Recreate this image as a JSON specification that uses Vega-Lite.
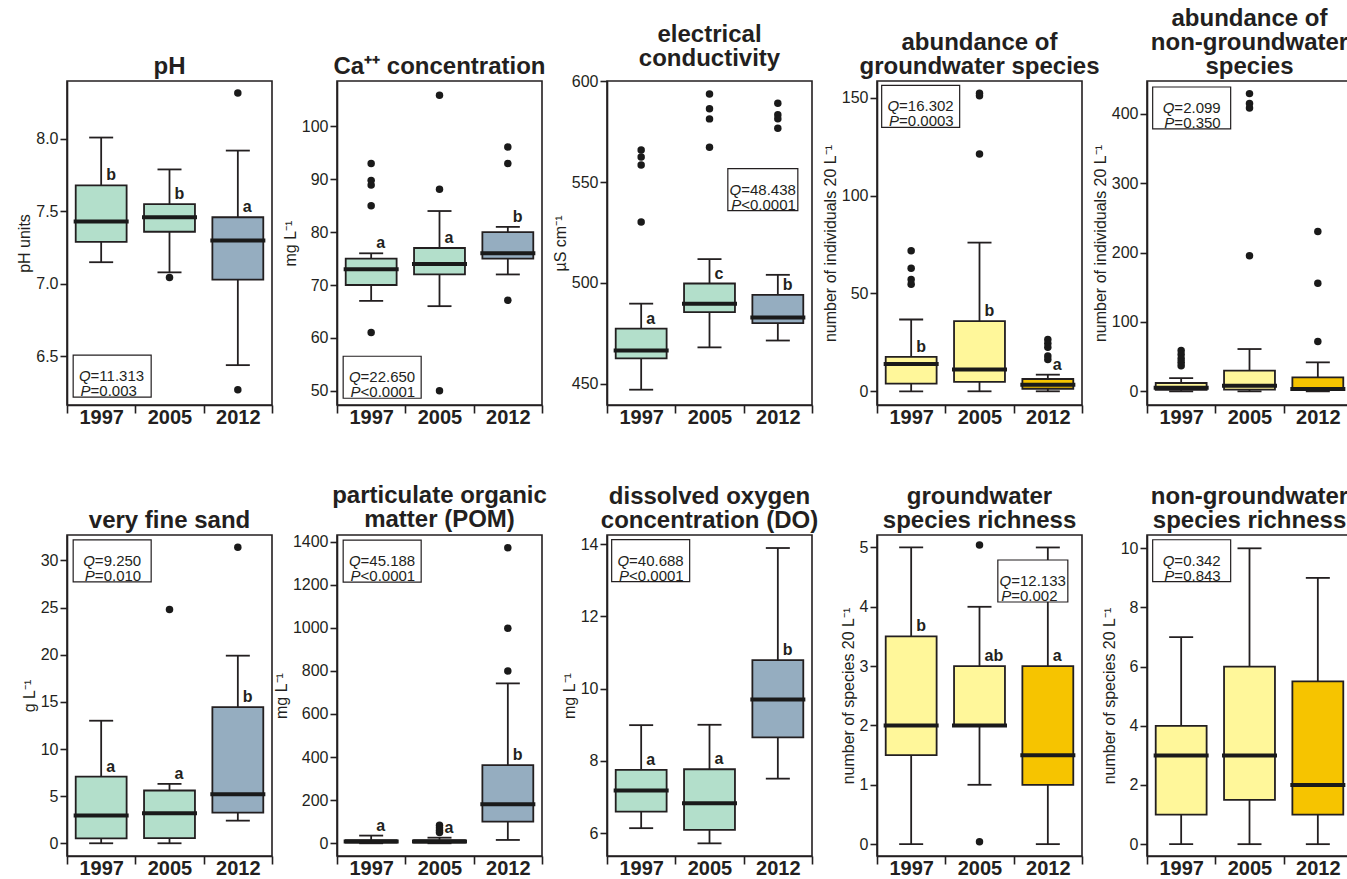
{
"$schema": "https://vega.github.io/schema/vega-lite/v6.json",
"background": "white",
"padding": {"left": 15, "top": 6, "right": 0, "bottom": 0},
"bounds": "flush",
"columns": 5,
"spacing": {"row": 130, "column": 65},
"resolve": {"scale": {"color": "independent", "x": "independent", "y": "independent"}},
"config": {
 "font": "Liberation Sans",
 "view": {"stroke": "#231f20", "strokeWidth": 1.6},
 "tick": {"opacity": 1},
 "axis": {"grid": false, "domainColor": "#231f20", "domainWidth": 1.6, "tickColor": "#231f20", "tickWidth": 1.6, "labelColor": "#231f20", "titleColor": "#231f20", "labelFont": "Liberation Sans", "titleFont": "Liberation Sans"},
 "axisY": {"tickSize": 7, "labelFontSize": 16, "labelPadding": 2, "titleFontSize": 16, "titleFontWeight": "normal", "titlePadding": 3, "labelFlush": false},
 "axisX": {"tickBand": "extent", "tickSize": 8, "labelFontSize": 20, "labelFontWeight": "bold", "labelAngle": 0, "labelPadding": -6},
 "title": {"fontSize": 24, "fontWeight": "bold", "font": "Liberation Sans", "color": "#231f20", "lineHeight": 24, "offset": 2, "anchor": "middle", "baseline": "bottom"}
},
"datasets": {
 "boxes": [
  {"panel":"pH","year":"1997","lo":7.15,"q1":7.29,"med":7.43,"q3":7.68,"hi":8.01,"letter":"b"},
  {"panel":"pH","year":"2005","lo":7.08,"q1":7.36,"med":7.46,"q3":7.55,"hi":7.79,"letter":"b"},
  {"panel":"pH","year":"2012","lo":6.44,"q1":7.03,"med":7.30,"q3":7.46,"hi":7.92,"letter":"a"},
  {"panel":"Ca","year":"1997","lo":67,"q1":70,"med":73,"q3":75,"hi":76,"letter":"a"},
  {"panel":"Ca","year":"2005","lo":66,"q1":72,"med":74,"q3":77,"hi":84,"letter":"a"},
  {"panel":"Ca","year":"2012","lo":72,"q1":75,"med":76,"q3":80,"hi":81,"letter":"b"},
  {"panel":"EC","year":"1997","lo":447,"q1":462.5,"med":466.5,"q3":477.3,"hi":489.7,"letter":"a"},
  {"panel":"EC","year":"2005","lo":468,"q1":485.5,"med":489.7,"q3":499.7,"hi":511.8,"letter":"c"},
  {"panel":"EC","year":"2012","lo":471.4,"q1":480,"med":482.8,"q3":494.1,"hi":504,"letter":"b"},
  {"panel":"GWA","year":"1997","lo":0,"q1":3.9,"med":14,"q3":17.6,"hi":36.7,"letter":"b"},
  {"panel":"GWA","year":"2005","lo":0,"q1":4.8,"med":11.1,"q3":35.9,"hi":76,"letter":"b"},
  {"panel":"GWA","year":"2012","lo":0,"q1":1.3,"med":3.4,"q3":6.3,"hi":8.5,"letter":"a"},
  {"panel":"NGWA","year":"1997","lo":0,"q1":2,"med":5,"q3":12,"hi":19,"letter":""},
  {"panel":"NGWA","year":"2005","lo":0,"q1":2.4,"med":8,"q3":30,"hi":61,"letter":""},
  {"panel":"NGWA","year":"2012","lo":0,"q1":2,"med":3.3,"q3":20.2,"hi":41.8,"letter":""},
  {"panel":"VFS","year":"1997","lo":0,"q1":0.53,"med":2.94,"q3":7.08,"hi":13.0,"letter":"a"},
  {"panel":"VFS","year":"2005","lo":0,"q1":0.55,"med":3.18,"q3":5.6,"hi":6.3,"letter":"a"},
  {"panel":"VFS","year":"2012","lo":2.4,"q1":3.26,"med":5.2,"q3":14.44,"hi":19.9,"letter":"b"},
  {"panel":"POM","year":"1997","lo":0,"q1":3,"med":8,"q3":14,"hi":35.7,"letter":"a"},
  {"panel":"POM","year":"2005","lo":0,"q1":3,"med":8,"q3":15,"hi":26,"letter":"a"},
  {"panel":"POM","year":"2012","lo":15.5,"q1":100.7,"med":181,"q3":363,"hi":742,"letter":"b"},
  {"panel":"DO","year":"1997","lo":6.14,"q1":6.6,"med":7.18,"q3":7.75,"hi":8.99,"letter":"a"},
  {"panel":"DO","year":"2005","lo":5.72,"q1":6.09,"med":6.83,"q3":7.77,"hi":9.0,"letter":"a"},
  {"panel":"DO","year":"2012","lo":7.51,"q1":8.65,"med":9.7,"q3":10.79,"hi":13.89,"letter":"b"},
  {"panel":"GWR","year":"1997","lo":0,"q1":1.5,"med":2,"q3":3.5,"hi":5,"letter":"b"},
  {"panel":"GWR","year":"2005","lo":1,"q1":2,"med":2,"q3":3,"hi":4,"letter":"ab"},
  {"panel":"GWR","year":"2012","lo":0,"q1":1,"med":1.5,"q3":3,"hi":5,"letter":"a"},
  {"panel":"NGWR","year":"1997","lo":0,"q1":1,"med":3,"q3":4,"hi":7,"letter":""},
  {"panel":"NGWR","year":"2005","lo":0,"q1":1.5,"med":3,"q3":6,"hi":10,"letter":""},
  {"panel":"NGWR","year":"2012","lo":0,"q1":1,"med":2,"q3":5.5,"hi":9,"letter":""}
 ],
 "outliers": [
  {"panel":"pH","year":"2005","v":7.045},
  {"panel":"pH","year":"2012","v":8.318},
  {"panel":"pH","year":"2012","v":6.27},
  {"panel":"Ca","year":"1997","v":93},
  {"panel":"Ca","year":"1997","v":89.8},
  {"panel":"Ca","year":"1997","v":88.9},
  {"panel":"Ca","year":"1997","v":85},
  {"panel":"Ca","year":"1997","v":61},
  {"panel":"Ca","year":"2005","v":105.9},
  {"panel":"Ca","year":"2005","v":88.1},
  {"panel":"Ca","year":"2005","v":50},
  {"panel":"Ca","year":"2012","v":96.1},
  {"panel":"Ca","year":"2012","v":93},
  {"panel":"Ca","year":"2012","v":67.1},
  {"panel":"EC","year":"1997","v":566},
  {"panel":"EC","year":"1997","v":562.5},
  {"panel":"EC","year":"1997","v":558.5},
  {"panel":"EC","year":"1997","v":530.2},
  {"panel":"EC","year":"2005","v":593.8},
  {"panel":"EC","year":"2005","v":586.4},
  {"panel":"EC","year":"2005","v":581.4},
  {"panel":"EC","year":"2005","v":567.3},
  {"panel":"EC","year":"2012","v":589.1},
  {"panel":"EC","year":"2012","v":583.5},
  {"panel":"EC","year":"2012","v":581.5},
  {"panel":"EC","year":"2012","v":576.7},
  {"panel":"GWA","year":"1997","v":71.8},
  {"panel":"GWA","year":"1997","v":62.9},
  {"panel":"GWA","year":"1997","v":57.2},
  {"panel":"GWA","year":"1997","v":54.7},
  {"panel":"GWA","year":"2005","v":152.4},
  {"panel":"GWA","year":"2005","v":151},
  {"panel":"GWA","year":"2005","v":121.3},
  {"panel":"GWA","year":"2012","v":26.5},
  {"panel":"GWA","year":"2012","v":24.5},
  {"panel":"GWA","year":"2012","v":22.5},
  {"panel":"GWA","year":"2012","v":18},
  {"panel":"GWA","year":"2012","v":16.2},
  {"panel":"NGWA","year":"1997","v":59},
  {"panel":"NGWA","year":"1997","v":53},
  {"panel":"NGWA","year":"1997","v":47},
  {"panel":"NGWA","year":"1997","v":42},
  {"panel":"NGWA","year":"1997","v":37},
  {"panel":"NGWA","year":"2005","v":429.3},
  {"panel":"NGWA","year":"2005","v":415},
  {"panel":"NGWA","year":"2005","v":408.5},
  {"panel":"NGWA","year":"2005","v":195.4},
  {"panel":"NGWA","year":"2012","v":230.5},
  {"panel":"NGWA","year":"2012","v":156},
  {"panel":"NGWA","year":"2012","v":72},
  {"panel":"VFS","year":"2005","v":24.8},
  {"panel":"VFS","year":"2012","v":31.4},
  {"panel":"POM","year":"2005","v":84},
  {"panel":"POM","year":"2005","v":72},
  {"panel":"POM","year":"2005","v":60},
  {"panel":"POM","year":"2005","v":50},
  {"panel":"POM","year":"2012","v":1371},
  {"panel":"POM","year":"2012","v":998},
  {"panel":"POM","year":"2012","v":800},
  {"panel":"GWR","year":"2005","v":5.04},
  {"panel":"GWR","year":"2005","v":0.04}
 ],
 "stats": [
  {"panel":"pH","q":"11.313","pop":"=","p":"0.003"},
  {"panel":"Ca","q":"22.650","pop":"<","p":"0.0001"},
  {"panel":"EC","q":"48.438","pop":"<","p":"0.0001"},
  {"panel":"GWA","q":"16.302","pop":"=","p":"0.0003"},
  {"panel":"NGWA","q":"2.099","pop":"=","p":"0.350"},
  {"panel":"VFS","q":"9.250","pop":"=","p":"0.010"},
  {"panel":"POM","q":"45.188","pop":"<","p":"0.0001"},
  {"panel":"DO","q":"40.688","pop":"<","p":"0.0001"},
  {"panel":"GWR","q":"12.133","pop":"=","p":"0.002"},
  {"panel":"NGWR","q":"0.342","pop":"=","p":"0.843"}
 ]
},
"concat": [
 {"width":205,"height":324,"title":{"text":"pH"},"data":{"name":"boxes"},"transform":[{"filter":"datum.panel === 'pH'"}],
  "layer":[
   {"mark":{"type":"rule","color":"#231f20","strokeWidth":1.8},"encoding":{"x":{"field":"year","type":"nominal","title":null,"scale":{"domain":["1997","2005","2012"],"paddingInner":0,"paddingOuter":0}},"y":{"field":"lo","type":"quantitative","scale":{"domain":[6.165,8.4],"nice":false,"zero":false},"axis":{"title":"pH units","values":[6.5,7,7.5,8],"format":".1f"}},"y2":{"field":"hi"}}},
   {"transform":[{"fold":["lo","hi"],"as":["end","v"]}],"mark":{"type":"tick","color":"#231f20","thickness":1.8,"size":24,"opacity":1},"encoding":{"x":{"field":"year","type":"nominal","title":null},"y":{"field":"v","type":"quantitative"}}},
   {"mark":{"type":"bar","width":{"band":0.745},"stroke":"#231f20","strokeWidth":1.8},"encoding":{"x":{"field":"year","type":"nominal","title":null},"y":{"field":"q1","type":"quantitative"},"y2":{"field":"q3"},"color":{"field":"year","type":"nominal","legend":null,"scale":{"domain":["1997","2005","2012"],"range":["#b3dfcb","#b3dfcb","#95adc0"]}}}},
   {"mark":{"type":"tick","color":"#1a1a1a","thickness":4,"size":55,"opacity":1},"encoding":{"x":{"field":"year","type":"nominal","title":null},"y":{"field":"med","type":"quantitative"}}},
   {"transform":[{"calculate":"datum.hi - datum.q3 < 0.04 ? datum.hi : datum.q3","as":"ly"}],"mark":{"type":"text","align":"left","baseline":"alphabetic","dx":5,"dy":-5,"fontSize":16,"fontWeight":"bold","color":"#231f20"},"encoding":{"x":{"field":"year","type":"nominal","title":null},"y":{"field":"ly","type":"quantitative"},"text":{"field":"letter"}}},
   {"data":{"name":"outliers"},"transform":[{"filter":"datum.panel === 'pH'"}],"mark":{"type":"point","filled":true,"size":56,"color":"#1a1a1a","opacity":1},"encoding":{"x":{"field":"year","type":"nominal","title":null},"y":{"field":"v","type":"quantitative"}}},
   {"data":{"name":"stats"},"transform":[{"filter":"datum.panel === 'pH'"}],"mark":{"type":"point","shape":"M-1,-0.538H1V0.538H-1Z","size":6084,"filled":true,"fill":"white","stroke":"#231f20","strokeWidth":1.2,"opacity":1,"xOffset":11},"encoding":{"x":{"datum":"1997","type":"nominal"},"y":{"datum":6.364,"type":"quantitative"}}},
   {"data":{"name":"stats"},"transform":[{"filter":"datum.panel === 'pH'"}],"mark":{"type":"text","text":"Q\nP","lineBreak":"\n","fontStyle":"italic","align":"right","baseline":"middle","lineHeight":15,"fontSize":15,"color":"#231f20","dx":-10.6},"encoding":{"x":{"datum":"1997","type":"nominal"},"y":{"datum":6.364,"type":"quantitative"}}},
   {"data":{"name":"stats"},"transform":[{"filter":"datum.panel === 'pH'"},{"calculate":"'=' + datum.q + '\\n' + datum.pop + datum.p","as":"qp"}],"mark":{"type":"text","lineBreak":"\n","align":"left","baseline":"middle","lineHeight":15,"fontSize":15,"color":"#231f20","dx":-10.6},"encoding":{"x":{"datum":"1997","type":"nominal"},"y":{"datum":6.364,"type":"quantitative"},"text":{"field":"qp"}}}
  ]},
 {"width":205,"height":324,"title":{"text":"Ca⁺⁺ concentration"},"data":{"name":"boxes"},"transform":[{"filter":"datum.panel === 'Ca'"}],
  "layer":[
   {"mark":{"type":"rule","color":"#231f20","strokeWidth":1.8},"encoding":{"x":{"field":"year","type":"nominal","title":null,"scale":{"domain":["1997","2005","2012"],"paddingInner":0,"paddingOuter":0}},"y":{"field":"lo","type":"quantitative","scale":{"domain":[47.3,108.6],"nice":false,"zero":false},"axis":{"title":"mg L⁻¹","values":[50,60,70,80,90,100],"format":"d"}},"y2":{"field":"hi"}}},
   {"transform":[{"fold":["lo","hi"],"as":["end","v"]}],"mark":{"type":"tick","color":"#231f20","thickness":1.8,"size":24,"opacity":1},"encoding":{"x":{"field":"year","type":"nominal","title":null},"y":{"field":"v","type":"quantitative"}}},
   {"mark":{"type":"bar","width":{"band":0.745},"stroke":"#231f20","strokeWidth":1.8},"encoding":{"x":{"field":"year","type":"nominal","title":null},"y":{"field":"q1","type":"quantitative"},"y2":{"field":"q3"},"color":{"field":"year","type":"nominal","legend":null,"scale":{"domain":["1997","2005","2012"],"range":["#b3dfcb","#b3dfcb","#95adc0"]}}}},
   {"mark":{"type":"tick","color":"#1a1a1a","thickness":4,"size":55,"opacity":1},"encoding":{"x":{"field":"year","type":"nominal","title":null},"y":{"field":"med","type":"quantitative"}}},
   {"transform":[{"calculate":"datum.hi - datum.q3 < 1.5 ? datum.hi : datum.q3","as":"ly"}],"mark":{"type":"text","align":"left","baseline":"alphabetic","dx":5,"dy":-5,"fontSize":16,"fontWeight":"bold","color":"#231f20"},"encoding":{"x":{"field":"year","type":"nominal","title":null},"y":{"field":"ly","type":"quantitative"},"text":{"field":"letter"}}},
   {"data":{"name":"outliers"},"transform":[{"filter":"datum.panel === 'Ca'"}],"mark":{"type":"point","filled":true,"size":56,"color":"#1a1a1a","opacity":1},"encoding":{"x":{"field":"year","type":"nominal","title":null},"y":{"field":"v","type":"quantitative"}}},
   {"data":{"name":"stats"},"transform":[{"filter":"datum.panel === 'Ca'"}],"mark":{"type":"point","shape":"M-1,-0.538H1V0.538H-1Z","size":6084,"filled":true,"fill":"white","stroke":"#231f20","strokeWidth":1.2,"opacity":1,"xOffset":11},"encoding":{"x":{"datum":"1997","type":"nominal"},"y":{"datum":52.55,"type":"quantitative"}}},
   {"data":{"name":"stats"},"transform":[{"filter":"datum.panel === 'Ca'"}],"mark":{"type":"text","text":"Q\nP","lineBreak":"\n","fontStyle":"italic","align":"right","baseline":"middle","lineHeight":15,"fontSize":15,"color":"#231f20","dx":-10.6},"encoding":{"x":{"datum":"1997","type":"nominal"},"y":{"datum":52.55,"type":"quantitative"}}},
   {"data":{"name":"stats"},"transform":[{"filter":"datum.panel === 'Ca'"},{"calculate":"'=' + datum.q + '\\n' + datum.pop + datum.p","as":"qp"}],"mark":{"type":"text","lineBreak":"\n","align":"left","baseline":"middle","lineHeight":15,"fontSize":15,"color":"#231f20","dx":-10.6},"encoding":{"x":{"datum":"1997","type":"nominal"},"y":{"datum":52.55,"type":"quantitative"},"text":{"field":"qp"}}}
  ]},
 {"width":205,"height":324,"title":{"text":["electrical","conductivity"]},"data":{"name":"boxes"},"transform":[{"filter":"datum.panel === 'EC'"}],
  "layer":[
   {"mark":{"type":"rule","color":"#231f20","strokeWidth":1.8},"encoding":{"x":{"field":"year","type":"nominal","title":null,"scale":{"domain":["1997","2005","2012"],"paddingInner":0,"paddingOuter":0}},"y":{"field":"lo","type":"quantitative","scale":{"domain":[439.4,600.2],"nice":false,"zero":false},"axis":{"title":"µS cm⁻¹","values":[450,500,550,600],"format":"d"}},"y2":{"field":"hi"}}},
   {"transform":[{"fold":["lo","hi"],"as":["end","v"]}],"mark":{"type":"tick","color":"#231f20","thickness":1.8,"size":24,"opacity":1},"encoding":{"x":{"field":"year","type":"nominal","title":null},"y":{"field":"v","type":"quantitative"}}},
   {"mark":{"type":"bar","width":{"band":0.745},"stroke":"#231f20","strokeWidth":1.8},"encoding":{"x":{"field":"year","type":"nominal","title":null},"y":{"field":"q1","type":"quantitative"},"y2":{"field":"q3"},"color":{"field":"year","type":"nominal","legend":null,"scale":{"domain":["1997","2005","2012"],"range":["#b3dfcb","#b3dfcb","#95adc0"]}}}},
   {"mark":{"type":"tick","color":"#1a1a1a","thickness":4,"size":55,"opacity":1},"encoding":{"x":{"field":"year","type":"nominal","title":null},"y":{"field":"med","type":"quantitative"}}},
   {"transform":[{"calculate":"datum.hi - datum.q3 < 3 ? datum.hi : datum.q3","as":"ly"}],"mark":{"type":"text","align":"left","baseline":"alphabetic","dx":5,"dy":-5,"fontSize":16,"fontWeight":"bold","color":"#231f20"},"encoding":{"x":{"field":"year","type":"nominal","title":null},"y":{"field":"ly","type":"quantitative"},"text":{"field":"letter"}}},
   {"data":{"name":"outliers"},"transform":[{"filter":"datum.panel === 'EC'"}],"mark":{"type":"point","filled":true,"size":56,"color":"#1a1a1a","opacity":1},"encoding":{"x":{"field":"year","type":"nominal","title":null},"y":{"field":"v","type":"quantitative"}}},
   {"data":{"name":"stats"},"transform":[{"filter":"datum.panel === 'EC'"}],"mark":{"type":"point","shape":"M-1,-0.6H1V0.6H-1Z","size":4900,"filled":true,"fill":"white","stroke":"#231f20","strokeWidth":1.2,"opacity":1,"xOffset":-15},"encoding":{"x":{"datum":"2012","type":"nominal"},"y":{"datum":546.3,"type":"quantitative"}}},
   {"data":{"name":"stats"},"transform":[{"filter":"datum.panel === 'EC'"}],"mark":{"type":"text","text":"Q\nP","lineBreak":"\n","fontStyle":"italic","align":"right","baseline":"middle","lineHeight":15,"fontSize":15,"color":"#231f20","dx":-36.6},"encoding":{"x":{"datum":"2012","type":"nominal"},"y":{"datum":546.3,"type":"quantitative"}}},
   {"data":{"name":"stats"},"transform":[{"filter":"datum.panel === 'EC'"},{"calculate":"'=' + datum.q + '\\n' + datum.pop + datum.p","as":"qp"}],"mark":{"type":"text","lineBreak":"\n","align":"left","baseline":"middle","lineHeight":15,"fontSize":15,"color":"#231f20","dx":-36.6},"encoding":{"x":{"datum":"2012","type":"nominal"},"y":{"datum":546.3,"type":"quantitative"},"text":{"field":"qp"}}}
  ]},
 {"width":205,"height":324,"title":{"text":["abundance of","groundwater species"]},"data":{"name":"boxes"},"transform":[{"filter":"datum.panel === 'GWA'"}],
  "layer":[
   {"mark":{"type":"rule","color":"#231f20","strokeWidth":1.8},"encoding":{"x":{"field":"year","type":"nominal","title":null,"scale":{"domain":["1997","2005","2012"],"paddingInner":0,"paddingOuter":0}},"y":{"field":"lo","type":"quantitative","scale":{"domain":[-7,158.6],"nice":false,"zero":false},"axis":{"title":"number of individuals 20 L⁻¹","values":[0,50,100,150],"format":"d"}},"y2":{"field":"hi"}}},
   {"transform":[{"fold":["lo","hi"],"as":["end","v"]}],"mark":{"type":"tick","color":"#231f20","thickness":1.8,"size":24,"opacity":1},"encoding":{"x":{"field":"year","type":"nominal","title":null},"y":{"field":"v","type":"quantitative"}}},
   {"mark":{"type":"bar","width":{"band":0.745},"stroke":"#231f20","strokeWidth":1.8},"encoding":{"x":{"field":"year","type":"nominal","title":null},"y":{"field":"q1","type":"quantitative"},"y2":{"field":"q3"},"color":{"field":"year","type":"nominal","legend":null,"scale":{"domain":["1997","2005","2012"],"range":["#fff79a","#fff79a","#f6c400"]}}}},
   {"mark":{"type":"tick","color":"#1a1a1a","thickness":4,"size":55,"opacity":1},"encoding":{"x":{"field":"year","type":"nominal","title":null},"y":{"field":"med","type":"quantitative"}}},
   {"transform":[{"calculate":"datum.hi - datum.q3 < 4 ? datum.hi : datum.q3","as":"ly"}],"mark":{"type":"text","align":"left","baseline":"alphabetic","dx":5,"dy":-5,"fontSize":16,"fontWeight":"bold","color":"#231f20"},"encoding":{"x":{"field":"year","type":"nominal","title":null},"y":{"field":"ly","type":"quantitative"},"text":{"field":"letter"}}},
   {"data":{"name":"outliers"},"transform":[{"filter":"datum.panel === 'GWA'"}],"mark":{"type":"point","filled":true,"size":56,"color":"#1a1a1a","opacity":1},"encoding":{"x":{"field":"year","type":"nominal","title":null},"y":{"field":"v","type":"quantitative"}}},
   {"data":{"name":"stats"},"transform":[{"filter":"datum.panel === 'GWA'"}],"mark":{"type":"point","shape":"M-1,-0.538H1V0.538H-1Z","size":6084,"filled":true,"fill":"white","stroke":"#231f20","strokeWidth":1.2,"opacity":1,"xOffset":9.5},"encoding":{"x":{"datum":"1997","type":"nominal"},"y":{"datum":145.6,"type":"quantitative"}}},
   {"data":{"name":"stats"},"transform":[{"filter":"datum.panel === 'GWA'"}],"mark":{"type":"text","text":"Q\nP","lineBreak":"\n","fontStyle":"italic","align":"right","baseline":"middle","lineHeight":15,"fontSize":15,"color":"#231f20","dx":-12.1},"encoding":{"x":{"datum":"1997","type":"nominal"},"y":{"datum":145.6,"type":"quantitative"}}},
   {"data":{"name":"stats"},"transform":[{"filter":"datum.panel === 'GWA'"},{"calculate":"'=' + datum.q + '\\n' + datum.pop + datum.p","as":"qp"}],"mark":{"type":"text","lineBreak":"\n","align":"left","baseline":"middle","lineHeight":15,"fontSize":15,"color":"#231f20","dx":-12.1},"encoding":{"x":{"datum":"1997","type":"nominal"},"y":{"datum":145.6,"type":"quantitative"},"text":{"field":"qp"}}}
  ]},
 {"width":205,"height":324,"title":{"text":["abundance of","non-groundwater","species"]},"data":{"name":"boxes"},"transform":[{"filter":"datum.panel === 'NGWA'"}],
  "layer":[
   {"mark":{"type":"rule","color":"#231f20","strokeWidth":1.8},"encoding":{"x":{"field":"year","type":"nominal","title":null,"scale":{"domain":["1997","2005","2012"],"paddingInner":0,"paddingOuter":0}},"y":{"field":"lo","type":"quantitative","scale":{"domain":[-19.7,447.5],"nice":false,"zero":false},"axis":{"title":"number of individuals 20 L⁻¹","values":[0,100,200,300,400],"format":"d"}},"y2":{"field":"hi"}}},
   {"transform":[{"fold":["lo","hi"],"as":["end","v"]}],"mark":{"type":"tick","color":"#231f20","thickness":1.8,"size":24,"opacity":1},"encoding":{"x":{"field":"year","type":"nominal","title":null},"y":{"field":"v","type":"quantitative"}}},
   {"mark":{"type":"bar","width":{"band":0.745},"stroke":"#231f20","strokeWidth":1.8},"encoding":{"x":{"field":"year","type":"nominal","title":null},"y":{"field":"q1","type":"quantitative"},"y2":{"field":"q3"},"color":{"field":"year","type":"nominal","legend":null,"scale":{"domain":["1997","2005","2012"],"range":["#fff79a","#fff79a","#f6c400"]}}}},
   {"mark":{"type":"tick","color":"#1a1a1a","thickness":4,"size":55,"opacity":1},"encoding":{"x":{"field":"year","type":"nominal","title":null},"y":{"field":"med","type":"quantitative"}}},
   {"data":{"name":"outliers"},"transform":[{"filter":"datum.panel === 'NGWA'"}],"mark":{"type":"point","filled":true,"size":56,"color":"#1a1a1a","opacity":1},"encoding":{"x":{"field":"year","type":"nominal","title":null},"y":{"field":"v","type":"quantitative"}}},
   {"data":{"name":"stats"},"transform":[{"filter":"datum.panel === 'NGWA'"}],"mark":{"type":"point","shape":"M-1,-0.538H1V0.538H-1Z","size":6084,"filled":true,"fill":"white","stroke":"#231f20","strokeWidth":1.2,"opacity":1,"xOffset":10.5},"encoding":{"x":{"datum":"1997","type":"nominal"},"y":{"datum":408.6,"type":"quantitative"}}},
   {"data":{"name":"stats"},"transform":[{"filter":"datum.panel === 'NGWA'"}],"mark":{"type":"text","text":"Q\nP","lineBreak":"\n","fontStyle":"italic","align":"right","baseline":"middle","lineHeight":15,"fontSize":15,"color":"#231f20","dx":-6.8},"encoding":{"x":{"datum":"1997","type":"nominal"},"y":{"datum":408.6,"type":"quantitative"}}},
   {"data":{"name":"stats"},"transform":[{"filter":"datum.panel === 'NGWA'"},{"calculate":"'=' + datum.q + '\\n' + datum.pop + datum.p","as":"qp"}],"mark":{"type":"text","lineBreak":"\n","align":"left","baseline":"middle","lineHeight":15,"fontSize":15,"color":"#231f20","dx":-6.8},"encoding":{"x":{"datum":"1997","type":"nominal"},"y":{"datum":408.6,"type":"quantitative"},"text":{"field":"qp"}}}
  ]},
 {"width":205,"height":321,"title":{"text":"very fine sand"},"data":{"name":"boxes"},"transform":[{"filter":"datum.panel === 'VFS'"}],
  "layer":[
   {"mark":{"type":"rule","color":"#231f20","strokeWidth":1.8},"encoding":{"x":{"field":"year","type":"nominal","title":null,"scale":{"domain":["1997","2005","2012"],"paddingInner":0,"paddingOuter":0}},"y":{"field":"lo","type":"quantitative","scale":{"domain":[-1.35,32.7],"nice":false,"zero":false},"axis":{"title":"g L⁻¹","values":[0,5,10,15,20,25,30],"format":"d"}},"y2":{"field":"hi"}}},
   {"transform":[{"fold":["lo","hi"],"as":["end","v"]}],"mark":{"type":"tick","color":"#231f20","thickness":1.8,"size":24,"opacity":1},"encoding":{"x":{"field":"year","type":"nominal","title":null},"y":{"field":"v","type":"quantitative"}}},
   {"mark":{"type":"bar","width":{"band":0.745},"stroke":"#231f20","strokeWidth":1.8},"encoding":{"x":{"field":"year","type":"nominal","title":null},"y":{"field":"q1","type":"quantitative"},"y2":{"field":"q3"},"color":{"field":"year","type":"nominal","legend":null,"scale":{"domain":["1997","2005","2012"],"range":["#b3dfcb","#b3dfcb","#95adc0"]}}}},
   {"mark":{"type":"tick","color":"#1a1a1a","thickness":4,"size":55,"opacity":1},"encoding":{"x":{"field":"year","type":"nominal","title":null},"y":{"field":"med","type":"quantitative"}}},
   {"transform":[{"calculate":"datum.hi - datum.q3 < 1 ? datum.hi : datum.q3","as":"ly"}],"mark":{"type":"text","align":"left","baseline":"alphabetic","dx":5,"dy":-5,"fontSize":16,"fontWeight":"bold","color":"#231f20"},"encoding":{"x":{"field":"year","type":"nominal","title":null},"y":{"field":"ly","type":"quantitative"},"text":{"field":"letter"}}},
   {"data":{"name":"outliers"},"transform":[{"filter":"datum.panel === 'VFS'"}],"mark":{"type":"point","filled":true,"size":56,"color":"#1a1a1a","opacity":1},"encoding":{"x":{"field":"year","type":"nominal","title":null},"y":{"field":"v","type":"quantitative"}}},
   {"data":{"name":"stats"},"transform":[{"filter":"datum.panel === 'VFS'"}],"mark":{"type":"point","shape":"M-1,-0.538H1V0.538H-1Z","size":6084,"filled":true,"fill":"white","stroke":"#231f20","strokeWidth":1.2,"opacity":1,"xOffset":11},"encoding":{"x":{"datum":"1997","type":"nominal"},"y":{"datum":29.95,"type":"quantitative"}}},
   {"data":{"name":"stats"},"transform":[{"filter":"datum.panel === 'VFS'"}],"mark":{"type":"text","text":"Q\nP","lineBreak":"\n","fontStyle":"italic","align":"right","baseline":"middle","lineHeight":15,"fontSize":15,"color":"#231f20","dx":-6.3},"encoding":{"x":{"datum":"1997","type":"nominal"},"y":{"datum":29.95,"type":"quantitative"}}},
   {"data":{"name":"stats"},"transform":[{"filter":"datum.panel === 'VFS'"},{"calculate":"'=' + datum.q + '\\n' + datum.pop + datum.p","as":"qp"}],"mark":{"type":"text","lineBreak":"\n","align":"left","baseline":"middle","lineHeight":15,"fontSize":15,"color":"#231f20","dx":-6.3},"encoding":{"x":{"datum":"1997","type":"nominal"},"y":{"datum":29.95,"type":"quantitative"},"text":{"field":"qp"}}}
  ]},
 {"width":205,"height":321,"title":{"text":["particulate organic","matter (POM)"]},"data":{"name":"boxes"},"transform":[{"filter":"datum.panel === 'POM'"}],
  "layer":[
   {"mark":{"type":"rule","color":"#231f20","strokeWidth":1.8},"encoding":{"x":{"field":"year","type":"nominal","title":null,"scale":{"domain":["1997","2005","2012"],"paddingInner":0,"paddingOuter":0}},"y":{"field":"lo","type":"quantitative","scale":{"domain":[-59,1430.6],"nice":false,"zero":false},"axis":{"title":"mg L⁻¹","values":[0,200,400,600,800,1000,1200,1400],"format":"d"}},"y2":{"field":"hi"}}},
   {"transform":[{"fold":["lo","hi"],"as":["end","v"]}],"mark":{"type":"tick","color":"#231f20","thickness":1.8,"size":24,"opacity":1},"encoding":{"x":{"field":"year","type":"nominal","title":null},"y":{"field":"v","type":"quantitative"}}},
   {"mark":{"type":"bar","width":{"band":0.745},"stroke":"#231f20","strokeWidth":1.8},"encoding":{"x":{"field":"year","type":"nominal","title":null},"y":{"field":"q1","type":"quantitative"},"y2":{"field":"q3"},"color":{"field":"year","type":"nominal","legend":null,"scale":{"domain":["1997","2005","2012"],"range":["#b3dfcb","#b3dfcb","#95adc0"]}}}},
   {"mark":{"type":"tick","color":"#1a1a1a","thickness":4,"size":55,"opacity":1},"encoding":{"x":{"field":"year","type":"nominal","title":null},"y":{"field":"med","type":"quantitative"}}},
   {"transform":[{"calculate":"datum.hi - datum.q3 < 40 ? datum.hi : datum.q3","as":"ly"}],"mark":{"type":"text","align":"left","baseline":"alphabetic","dx":5,"dy":-5,"fontSize":16,"fontWeight":"bold","color":"#231f20"},"encoding":{"x":{"field":"year","type":"nominal","title":null},"y":{"field":"ly","type":"quantitative"},"text":{"field":"letter"}}},
   {"data":{"name":"outliers"},"transform":[{"filter":"datum.panel === 'POM'"}],"mark":{"type":"point","filled":true,"size":56,"color":"#1a1a1a","opacity":1},"encoding":{"x":{"field":"year","type":"nominal","title":null},"y":{"field":"v","type":"quantitative"}}},
   {"data":{"name":"stats"},"transform":[{"filter":"datum.panel === 'POM'"}],"mark":{"type":"point","shape":"M-1,-0.538H1V0.538H-1Z","size":6084,"filled":true,"fill":"white","stroke":"#231f20","strokeWidth":1.2,"opacity":1,"xOffset":11},"encoding":{"x":{"datum":"1997","type":"nominal"},"y":{"datum":1309.5,"type":"quantitative"}}},
   {"data":{"name":"stats"},"transform":[{"filter":"datum.panel === 'POM'"}],"mark":{"type":"text","text":"Q\nP","lineBreak":"\n","fontStyle":"italic","align":"right","baseline":"middle","lineHeight":15,"fontSize":15,"color":"#231f20","dx":-10.6},"encoding":{"x":{"datum":"1997","type":"nominal"},"y":{"datum":1309.5,"type":"quantitative"}}},
   {"data":{"name":"stats"},"transform":[{"filter":"datum.panel === 'POM'"},{"calculate":"'=' + datum.q + '\\n' + datum.pop + datum.p","as":"qp"}],"mark":{"type":"text","lineBreak":"\n","align":"left","baseline":"middle","lineHeight":15,"fontSize":15,"color":"#231f20","dx":-10.6},"encoding":{"x":{"datum":"1997","type":"nominal"},"y":{"datum":1309.5,"type":"quantitative"},"text":{"field":"qp"}}}
  ]},
 {"width":205,"height":321,"title":{"text":["dissolved oxygen","concentration (DO)"]},"data":{"name":"boxes"},"transform":[{"filter":"datum.panel === 'DO'"}],
  "layer":[
   {"mark":{"type":"rule","color":"#231f20","strokeWidth":1.8},"encoding":{"x":{"field":"year","type":"nominal","title":null,"scale":{"domain":["1997","2005","2012"],"paddingInner":0,"paddingOuter":0}},"y":{"field":"lo","type":"quantitative","scale":{"domain":[5.37,14.25],"nice":false,"zero":false},"axis":{"title":"mg L⁻¹","values":[6,8,10,12,14],"format":"d"}},"y2":{"field":"hi"}}},
   {"transform":[{"fold":["lo","hi"],"as":["end","v"]}],"mark":{"type":"tick","color":"#231f20","thickness":1.8,"size":24,"opacity":1},"encoding":{"x":{"field":"year","type":"nominal","title":null},"y":{"field":"v","type":"quantitative"}}},
   {"mark":{"type":"bar","width":{"band":0.745},"stroke":"#231f20","strokeWidth":1.8},"encoding":{"x":{"field":"year","type":"nominal","title":null},"y":{"field":"q1","type":"quantitative"},"y2":{"field":"q3"},"color":{"field":"year","type":"nominal","legend":null,"scale":{"domain":["1997","2005","2012"],"range":["#b3dfcb","#b3dfcb","#95adc0"]}}}},
   {"mark":{"type":"tick","color":"#1a1a1a","thickness":4,"size":55,"opacity":1},"encoding":{"x":{"field":"year","type":"nominal","title":null},"y":{"field":"med","type":"quantitative"}}},
   {"transform":[{"calculate":"datum.hi - datum.q3 < 0.3 ? datum.hi : datum.q3","as":"ly"}],"mark":{"type":"text","align":"left","baseline":"alphabetic","dx":5,"dy":-5,"fontSize":16,"fontWeight":"bold","color":"#231f20"},"encoding":{"x":{"field":"year","type":"nominal","title":null},"y":{"field":"ly","type":"quantitative"},"text":{"field":"letter"}}},
   {"data":{"name":"stats"},"transform":[{"filter":"datum.panel === 'DO'"}],"mark":{"type":"point","shape":"M-1,-0.538H1V0.538H-1Z","size":6084,"filled":true,"fill":"white","stroke":"#231f20","strokeWidth":1.2,"opacity":1,"xOffset":9.5},"encoding":{"x":{"datum":"1997","type":"nominal"},"y":{"datum":13.54,"type":"quantitative"}}},
   {"data":{"name":"stats"},"transform":[{"filter":"datum.panel === 'DO'"}],"mark":{"type":"text","text":"Q\nP","lineBreak":"\n","fontStyle":"italic","align":"right","baseline":"middle","lineHeight":15,"fontSize":15,"color":"#231f20","dx":-12.1},"encoding":{"x":{"datum":"1997","type":"nominal"},"y":{"datum":13.54,"type":"quantitative"}}},
   {"data":{"name":"stats"},"transform":[{"filter":"datum.panel === 'DO'"},{"calculate":"'=' + datum.q + '\\n' + datum.pop + datum.p","as":"qp"}],"mark":{"type":"text","lineBreak":"\n","align":"left","baseline":"middle","lineHeight":15,"fontSize":15,"color":"#231f20","dx":-12.1},"encoding":{"x":{"datum":"1997","type":"nominal"},"y":{"datum":13.54,"type":"quantitative"},"text":{"field":"qp"}}}
  ]},
 {"width":205,"height":321,"title":{"text":["groundwater","species richness"]},"data":{"name":"boxes"},"transform":[{"filter":"datum.panel === 'GWR'"}],
  "layer":[
   {"mark":{"type":"rule","color":"#231f20","strokeWidth":1.8},"encoding":{"x":{"field":"year","type":"nominal","title":null,"scale":{"domain":["1997","2005","2012"],"paddingInner":0,"paddingOuter":0}},"y":{"field":"lo","type":"quantitative","scale":{"domain":[-0.2,5.21],"nice":false,"zero":false},"axis":{"title":"number of species 20 L⁻¹","values":[0,1,2,3,4,5],"format":"d"}},"y2":{"field":"hi"}}},
   {"transform":[{"fold":["lo","hi"],"as":["end","v"]}],"mark":{"type":"tick","color":"#231f20","thickness":1.8,"size":24,"opacity":1},"encoding":{"x":{"field":"year","type":"nominal","title":null},"y":{"field":"v","type":"quantitative"}}},
   {"mark":{"type":"bar","width":{"band":0.745},"stroke":"#231f20","strokeWidth":1.8},"encoding":{"x":{"field":"year","type":"nominal","title":null},"y":{"field":"q1","type":"quantitative"},"y2":{"field":"q3"},"color":{"field":"year","type":"nominal","legend":null,"scale":{"domain":["1997","2005","2012"],"range":["#fff79a","#fff79a","#f6c400"]}}}},
   {"mark":{"type":"tick","color":"#1a1a1a","thickness":4,"size":55,"opacity":1},"encoding":{"x":{"field":"year","type":"nominal","title":null},"y":{"field":"med","type":"quantitative"}}},
   {"transform":[{"calculate":"datum.hi - datum.q3 < 0.5 ? datum.hi : datum.q3","as":"ly"}],"mark":{"type":"text","align":"left","baseline":"alphabetic","dx":5,"dy":-5,"fontSize":16,"fontWeight":"bold","color":"#231f20"},"encoding":{"x":{"field":"year","type":"nominal","title":null},"y":{"field":"ly","type":"quantitative"},"text":{"field":"letter"}}},
   {"data":{"name":"outliers"},"transform":[{"filter":"datum.panel === 'GWR'"}],"mark":{"type":"point","filled":true,"size":56,"color":"#1a1a1a","opacity":1},"encoding":{"x":{"field":"year","type":"nominal","title":null},"y":{"field":"v","type":"quantitative"}}},
   {"data":{"name":"stats"},"transform":[{"filter":"datum.panel === 'GWR'"}],"mark":{"type":"point","shape":"M-1,-0.6H1V0.6H-1Z","size":4900,"filled":true,"fill":"white","stroke":"#231f20","strokeWidth":1.2,"opacity":1,"xOffset":-15},"encoding":{"x":{"datum":"2012","type":"nominal"},"y":{"datum":4.435,"type":"quantitative"}}},
   {"data":{"name":"stats"},"transform":[{"filter":"datum.panel === 'GWR'"}],"mark":{"type":"text","text":"Q\nP","lineBreak":"\n","fontStyle":"italic","align":"right","baseline":"middle","lineHeight":15,"fontSize":15,"color":"#231f20","dx":-36.6},"encoding":{"x":{"datum":"2012","type":"nominal"},"y":{"datum":4.435,"type":"quantitative"}}},
   {"data":{"name":"stats"},"transform":[{"filter":"datum.panel === 'GWR'"},{"calculate":"'=' + datum.q + '\\n' + datum.pop + datum.p","as":"qp"}],"mark":{"type":"text","lineBreak":"\n","align":"left","baseline":"middle","lineHeight":15,"fontSize":15,"color":"#231f20","dx":-36.6},"encoding":{"x":{"datum":"2012","type":"nominal"},"y":{"datum":4.435,"type":"quantitative"},"text":{"field":"qp"}}}
  ]},
 {"width":205,"height":321,"title":{"text":["non-groundwater","species richness"]},"data":{"name":"boxes"},"transform":[{"filter":"datum.panel === 'NGWR'"}],
  "layer":[
   {"mark":{"type":"rule","color":"#231f20","strokeWidth":1.8},"encoding":{"x":{"field":"year","type":"nominal","title":null,"scale":{"domain":["1997","2005","2012"],"paddingInner":0,"paddingOuter":0}},"y":{"field":"lo","type":"quantitative","scale":{"domain":[-0.4,10.45],"nice":false,"zero":false},"axis":{"title":"number of species 20 L⁻¹","values":[0,2,4,6,8,10],"format":"d"}},"y2":{"field":"hi"}}},
   {"transform":[{"fold":["lo","hi"],"as":["end","v"]}],"mark":{"type":"tick","color":"#231f20","thickness":1.8,"size":24,"opacity":1},"encoding":{"x":{"field":"year","type":"nominal","title":null},"y":{"field":"v","type":"quantitative"}}},
   {"mark":{"type":"bar","width":{"band":0.745},"stroke":"#231f20","strokeWidth":1.8},"encoding":{"x":{"field":"year","type":"nominal","title":null},"y":{"field":"q1","type":"quantitative"},"y2":{"field":"q3"},"color":{"field":"year","type":"nominal","legend":null,"scale":{"domain":["1997","2005","2012"],"range":["#fff79a","#fff79a","#f6c400"]}}}},
   {"mark":{"type":"tick","color":"#1a1a1a","thickness":4,"size":55,"opacity":1},"encoding":{"x":{"field":"year","type":"nominal","title":null},"y":{"field":"med","type":"quantitative"}}},
   {"data":{"name":"stats"},"transform":[{"filter":"datum.panel === 'NGWR'"}],"mark":{"type":"point","shape":"M-1,-0.538H1V0.538H-1Z","size":6084,"filled":true,"fill":"white","stroke":"#231f20","strokeWidth":1.2,"opacity":1,"xOffset":10.5},"encoding":{"x":{"datum":"1997","type":"nominal"},"y":{"datum":9.58,"type":"quantitative"}}},
   {"data":{"name":"stats"},"transform":[{"filter":"datum.panel === 'NGWR'"}],"mark":{"type":"text","text":"Q\nP","lineBreak":"\n","fontStyle":"italic","align":"right","baseline":"middle","lineHeight":15,"fontSize":15,"color":"#231f20","dx":-6.8},"encoding":{"x":{"datum":"1997","type":"nominal"},"y":{"datum":9.58,"type":"quantitative"}}},
   {"data":{"name":"stats"},"transform":[{"filter":"datum.panel === 'NGWR'"},{"calculate":"'=' + datum.q + '\\n' + datum.pop + datum.p","as":"qp"}],"mark":{"type":"text","lineBreak":"\n","align":"left","baseline":"middle","lineHeight":15,"fontSize":15,"color":"#231f20","dx":-6.8},"encoding":{"x":{"datum":"1997","type":"nominal"},"y":{"datum":9.58,"type":"quantitative"},"text":{"field":"qp"}}}
  ]}
]
}
